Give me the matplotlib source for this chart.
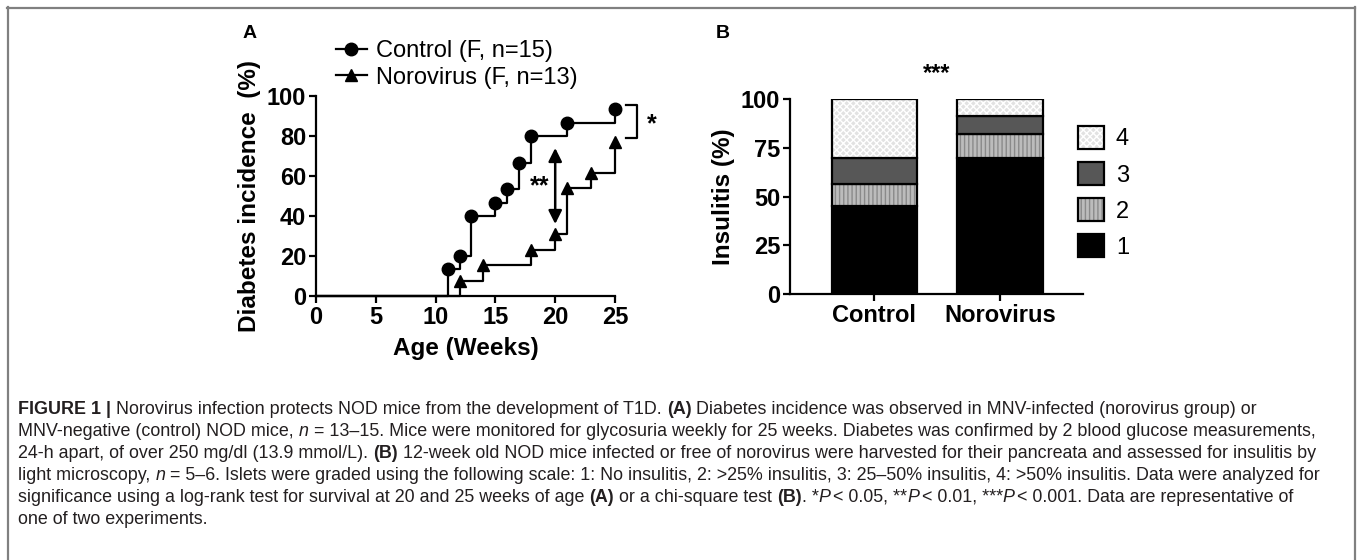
import numpy as np
import matplotlib
matplotlib.use('Agg')
import matplotlib.pyplot as plt
from matplotlib.colors import to_rgba
from matplotlib.font_manager import FontProperties
from matplotlib.lines import Line2D

plt.rcParams['font.family'] = ['Liberation Sans', 'DejaVu Sans']

# Panel A: cumulative diabetes incidence (%)
ctrl_weeks = [0, 11, 12, 13, 15, 16, 17, 18, 21, 25]
ctrl_inc = [0, 13.3, 20.0, 40.0, 46.7, 53.3, 66.7, 80.0, 86.7, 93.3]
noro_weeks = [0, 12, 14, 18, 20, 21, 23, 25]
noro_inc = [0, 7.7, 15.4, 23.1, 30.8, 53.8, 61.5, 76.9]
legend_a = ['Control (F, n=15)', 'Norovirus (F, n=13)']

# Panel B: insulitis grades (%)
groups = ['Control', 'Norovirus']
grade_labels = ['1', '2', '3', '4']
grade1 = [45.0, 70.0]
grade2 = [11.5, 12.0]
grade3 = [13.0, 9.5]
grade4 = [30.5, 8.5]

W, H = 1358, 560
fig = plt.figure(figsize=(W / 100, H / 100), dpi=100)


def px(x0, y0, x1, y1):
    return [x0 / W, 1 - y1 / H, (x1 - x0) / W, (y1 - y0) / H]


# frame around the figure
frame_c = '#808080'
fig.add_artist(Line2D([7 / W, 1355 / W], [1 - 7.5 / H] * 2, color=frame_c, lw=1.6))
fig.add_artist(Line2D([7.5 / W] * 2, [0, 1 - 7 / H], color=frame_c, lw=1.6))
fig.add_artist(Line2D([1355 / W] * 2, [0, 1 - 7 / H], color=frame_c, lw=1.6))

tick_fs = 17
lab_fs = 17.5

# ---------- Panel A ----------
axA = fig.add_axes(px(316, 96, 615, 296))
axA.step(ctrl_weeks, ctrl_inc, where='post', color='black', lw=1.6, marker='o',
         markersize=9, markevery=list(range(1, len(ctrl_weeks))), clip_on=False,
         label=legend_a[0])
axA.step(noro_weeks, noro_inc, where='post', color='black', lw=1.6, marker='^',
         markersize=8.5, markevery=list(range(1, len(noro_weeks))), clip_on=False,
         label=legend_a[1])
axA.set_xlim(0, 25)
axA.set_ylim(0, 100)
axA.set_xticks(range(0, 26, 5))
axA.set_yticks(range(0, 101, 20))
axA.set_xlabel('Age (Weeks)', fontsize=lab_fs, fontweight='bold', labelpad=6)
axA.set_ylabel('Diabetes incidence  (%)', fontsize=lab_fs, fontweight='bold', labelpad=4)

axA.annotate('', xy=(20, 36), xytext=(20, 74),
             arrowprops=dict(arrowstyle='<|-|>', color='black', lw=1.8, mutation_scale=20,
                             shrinkA=0, shrinkB=0))
axA.text(18.7, 55, '**', fontsize=18, fontweight='bold', ha='center', va='center')
axA.plot([25.9, 26.8, 26.8, 25.9], [95.5, 95.5, 79, 79], color='black', lw=1.6,
         clip_on=False)
axA.text(28.1, 86, '*', fontsize=18, fontweight='bold', ha='center', va='center',
         clip_on=False)
fig.legend(loc='upper left', bbox_to_anchor=(336 / W, 1 - 40 / H), frameon=False,
           fontsize=17, handlelength=1.3, handletextpad=0.4, labelspacing=0.2,
           borderpad=0, borderaxespad=0)
fig.text(250 / W, 1 - 33 / H, 'A', fontsize=14, fontweight='bold', ha='center', va='center')

# ---------- Panel B ----------
axB = fig.add_axes(px(790, 99, 1083, 294))
x = np.arange(len(groups))
styles = [
    dict(facecolor='black', hatch=None, hc=None),
    dict(facecolor='#bcbcbc', hatch='||||', hc='#8a8a8a'),
    dict(facecolor='#575757', hatch=None, hc=None),
    dict(facecolor='#e2e2e2', hatch='xxxxx', hc='#ffffff'),
]
bottom = np.zeros(len(groups))
containers = []
for vals, st, lab in zip([grade1, grade2, grade3, grade4], styles, grade_labels):
    c = axB.bar(x, vals, bottom=bottom, width=0.675, facecolor=st['facecolor'],
                edgecolor='black', linewidth=1.6, hatch=st['hatch'], label=lab)
    if st['hc']:
        for p in c.patches:
            p._hatch_color = to_rgba(st['hc'])
    containers.append(c)
    bottom += np.array(vals)
axB.set_xlim(-0.667, 1.659)
axB.set_ylim(0, 100)
axB.set_xticks(x)
axB.set_xticklabels(groups)
axB.set_yticks([0, 25, 50, 75, 100])
axB.set_ylabel('Insulitis (%)', fontsize=lab_fs, fontweight='bold', labelpad=4)
axB.text(0.5, 113, '***', fontsize=17, fontweight='bold', ha='center', va='center',
         clip_on=False)
fig.legend(containers[::-1], grade_labels[::-1], loc='upper left',
           bbox_to_anchor=(1078 / W, 1 - 126 / H), frameon=False, fontsize=17,
           handlelength=1.1, handleheight=1.1, handletextpad=0.5, labelspacing=0.5,
           borderpad=0, borderaxespad=0)
fig.text(723 / W, 1 - 33 / H, 'B', fontsize=14, fontweight='bold', ha='center', va='center')

for ax in (axA, axB):
    for s in ('top', 'right'):
        ax.spines[s].set_visible(False)
    for s in ('left', 'bottom'):
        ax.spines[s].set_linewidth(1.6)
    ax.tick_params(width=1.6, length=5, labelsize=tick_fs, pad=2)
    for t in ax.get_xticklabels() + ax.get_yticklabels():
        t.set_fontweight('bold')

# ---------- Caption ----------
cap_family = ['Liberation Sans Narrow', 'Liberation Sans']
cap_color = '#231f20'
caption = [
    [('FIGURE 1 |', 'b'), (' Norovirus infection protects NOD mice from the development of T1D. ', 'r'),
     ('(A)', 'b'), (' Diabetes incidence was observed in MNV-infected (norovirus group) or', 'r')],
    [('MNV-negative (control) NOD mice, ', 'r'), ('n', 'i'),
     (' = 13\u201315. Mice were monitored for glycosuria weekly for 25 weeks. Diabetes was confirmed by 2 blood glucose measurements,', 'r')],
    [('24-h apart, of over 250 mg/dl (13.9 mmol/L). ', 'r'), ('(B)', 'b'),
     (' 12-week old NOD mice infected or free of norovirus were harvested for their pancreata and assessed for insulitis by', 'r')],
    [('light microscopy, ', 'r'), ('n', 'i'),
     (' = 5\u20136. Islets were graded using the following scale: 1: No insulitis, 2: >25% insulitis, 3: 25\u201350% insulitis, 4: >50% insulitis. Data were analyzed for', 'r')],
    [('significance using a log-rank test for survival at 20 and 25 weeks of age ', 'r'), ('(A)', 'b'),
     (' or a chi-square test ', 'r'), ('(B)', 'b'), ('. *', 'r'), ('P', 'i'), (' < 0.05, **', 'r'),
     ('P', 'i'), (' < 0.01, ***', 'r'), ('P', 'i'), (' < 0.001. Data are representative of', 'r')],
    [('one of two experiments.', 'r')],
]

renderer = fig.canvas.get_renderer()


def seg_prop(style, size):
    return FontProperties(family=cap_family, size=size,
                          weight='bold' if style == 'b' else 'normal',
                          style='italic' if style == 'i' else 'normal')


def seg_width(txt, style, size):
    prop = seg_prop(style, size)
    w1 = renderer.get_text_width_height_descent('.' + txt + '.', prop, False)[0]
    w0 = renderer.get_text_width_height_descent('..', prop, False)[0]
    return (w1 - w0)


test = sum(seg_width(t, s, 10) for t, s in caption[1])
cap_fs = 10 * (1321 - 18) / test

y0 = 414
for i, line in enumerate(caption):
    xx = 18
    for txt, style in line:
        prop = seg_prop(style, cap_fs)
        fig.text(xx / W, 1 - (y0 + 22 * i) / H, txt, fontproperties=prop, color=cap_color,
                 ha='left', va='baseline')
        xx += seg_width(txt, style, cap_fs)

fig.savefig('out.png', dpi=100)
